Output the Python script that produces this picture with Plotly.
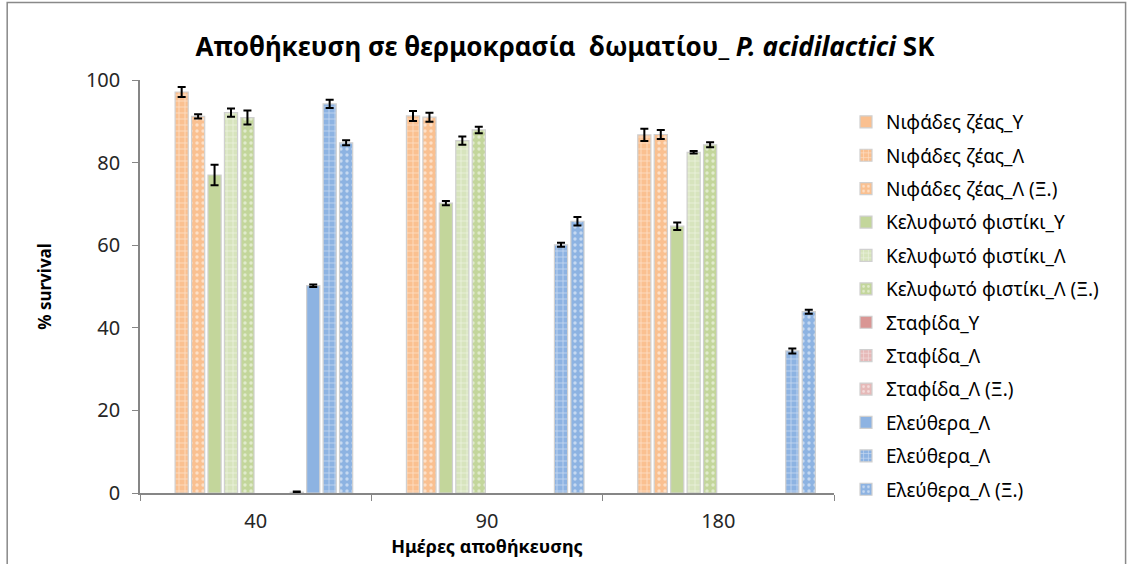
import plotly.graph_objects as go

days = ["40", "90", "180"]

series_names = [
    "Νιφάδες ζέας_Υ", "Νιφάδες ζέας_Λ", "Νιφάδες ζέας_Λ (Ξ.)",
    "Κελυφωτό φιστίκι_Υ", "Κελυφωτό φιστίκι_Λ", "Κελυφωτό φιστίκι_Λ (Ξ.)",
    "Σταφίδα_Υ", "Σταφίδα_Λ", "Σταφίδα_Λ (Ξ.)",
    "Ελεύθερα_Λ", "Ελεύθερα_Λ", "Ελεύθερα_Λ (Ξ.)",
]

nif_y = [None, None, None]
nif_l = [97.1, 91.3, 86.7]
nif_lx = [91.2, 91.0, 86.8]
kel_y = [77.0, 70.2, 64.6]
kel_l = [92.1, 85.3, 82.5]
kel_lx = [90.9, 87.9, 84.3]
sta_y = [None, None, None]
sta_l = [None, None, None]
sta_lx = [0.2, None, None]
ele_y = [50.2, None, None]
ele_l = [94.2, 60.1, 34.4]
ele_lx = [84.8, 65.8, 43.9]

nif_y_err = [0, 0, 0]
nif_l_err = [1.2, 1.2, 1.5]
nif_lx_err = [0.5, 1.1, 1.1]
kel_y_err = [2.5, 0.5, 0.9]
kel_l_err = [1.0, 1.0, 0.3]
kel_lx_err = [1.7, 0.8, 0.6]
sta_y_err = [0, 0, 0]
sta_l_err = [0, 0, 0]
sta_lx_err = [0.15, 0, 0]
ele_y_err = [0.3, 0, 0]
ele_l_err = [1.0, 0.5, 0.6]
ele_lx_err = [0.6, 1.0, 0.5]

values = [nif_y, nif_l, nif_lx, kel_y, kel_l, kel_lx, sta_y, sta_l, sta_lx, ele_y, ele_l, ele_lx]
errors = [nif_y_err, nif_l_err, nif_lx_err, kel_y_err, kel_l_err, kel_lx_err,
          sta_y_err, sta_l_err, sta_lx_err, ele_y_err, ele_l_err, ele_lx_err]

colors = ["#FAC090", "#FAC090", "#FAC090",
          "#C3D69B", "#D7E4BD", "#C3D69B",
          "#D99694", "#E6B9B8", "#E6B9B8",
          "#8DB3E2", "#8DB3E2", "#8DB3E2"]
patterns = ["", "+", ".", "", "+", ".", "", "+", ".", "", "+", "."]

font_main = "Noto Sans"

fig = go.Figure()
for i, (name, vals, errs) in enumerate(zip(series_names, values, errors)):
    fig.add_trace(go.Bar(
        x=days, y=vals, name=name, legendgroup=f"g{i}",
        marker=dict(
            color=colors[i],
            line=dict(color="#D0D0D0", width=1.2),
            pattern=dict(shape=patterns[i], fgcolor="white", bgcolor=colors[i],
                         size=6, solidity=0.25, fillmode="overlay") if patterns[i] else None,
        ),
        error_y=dict(type="data", array=errs, visible=True, color="black",
                     thickness=2, width=4),
    ))

W, H = 1130, 564
L, R, T, B = 140, 835, 80, 496
pw, ph = R - L, B - T

def px(x):
    return (x - L) / pw

def py(y):
    return (B - y) / ph

fig.update_layout(
    width=W, height=H,
    margin=dict(l=L, r=W - R, t=T, b=H - B),
    paper_bgcolor="white", plot_bgcolor="white",
    barmode="group", bargap=0.147, bargroupgap=0.2,
    font=dict(family=font_main, color="#262626"),
    title=dict(
        text="<b>Αποθήκευση σε θερμοκρασία  δωματίου_ <i>P. acidilactici</i> SK</b>",
        x=0.5, xref="container", xanchor="center",
        y=1 - 47 / H, yref="container", yanchor="middle",
        font=dict(size=26, family=font_main, color="#000000"),
    ),
    xaxis=dict(
        type="category", categoryorder="array", categoryarray=days,
        tickson="boundaries", ticks="outside", ticklen=6, tickcolor="#868686",
        showline=True, linecolor="#868686", linewidth=1.5,
        tickfont=dict(size=20, color="#262626"), ticklabelstandoff=9,
        title=dict(text="<b>Ημέρες αποθήκευσης</b>", font=dict(size=18, color="#000000"), standoff=6),
        showgrid=False,
    ),
    yaxis=dict(
        range=[0, 100], dtick=20, tick0=0,
        ticks="outside", ticklen=6, tickcolor="#868686",
        showline=True, linecolor="#868686", linewidth=1.5,
        tickfont=dict(size=20, color="#262626"), ticklabelstandoff=8,
        title=dict(text="<b>% survival</b>", font=dict(size=17, color="#000000"), standoff=30),
        showgrid=False, zeroline=False,
    ),
    legend=dict(
        x=846 / W, xref="container", xanchor="left",
        y=1 - 103 / H, yref="container", yanchor="top",
        font=dict(size=19, family=font_main, color="#000000"),
        tracegroupgap=5.7, traceorder="grouped", maxheight=520,
        bgcolor="rgba(0,0,0,0)",
    ),
    shapes=[dict(
        type="rect", xref="paper", yref="paper",
        x0=px(7), x1=px(1127), y0=py(620), y1=py(2),
        line=dict(color="#898989", width=1.5), fillcolor="rgba(0,0,0,0)", layer="below",
    )],
)

fig.write_html("out.html", config={"displayModeBar": False},
               post_script="document.body.style.margin='0';document.body.style.overflow='hidden';")
